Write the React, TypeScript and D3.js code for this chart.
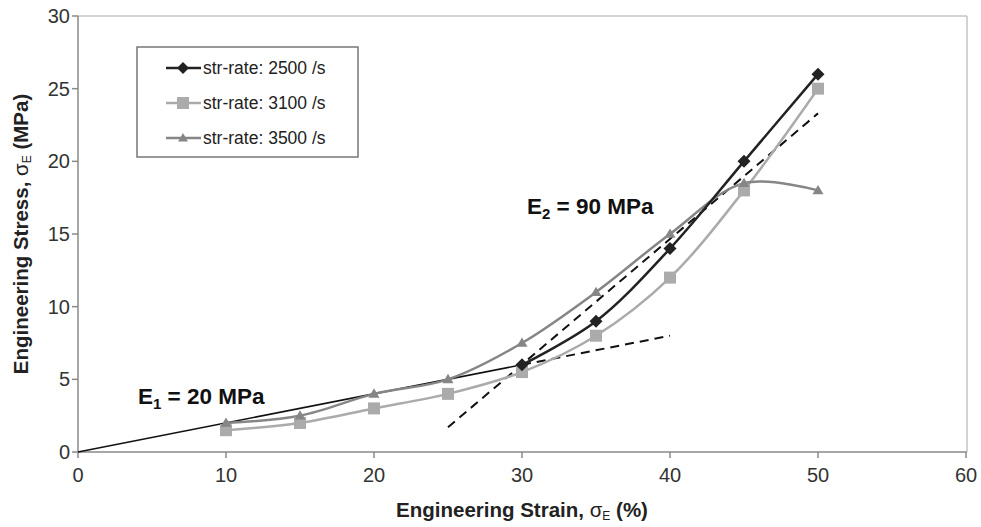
import React from "react";
import * as d3 from "d3";

const strain2500 = [30, 35, 40, 45, 50];
const stress2500 = [6, 9, 14, 20, 26];
const strain3100 = [10, 15, 20, 25, 30, 35, 40, 45, 50];
const stress3100 = [1.5, 2, 3, 4, 5.5, 8, 12, 18, 25];
const strain3500 = [10, 15, 20, 25, 30, 35, 40, 45, 50];
const stress3500 = [2, 2.5, 4, 5, 7.5, 11, 15, 18.5, 18];
const e1Solid = [[0, 0], [30, 6]];
const e1Dashed = [[30, 6], [40, 8]];
const e2Dashed = [[25, 1.7], [50, 23.3]];
const xTicks = [0, 10, 20, 30, 40, 50, 60];
const yTicks = [0, 5, 10, 15, 20, 25, 30];
const legendLabels = ["str-rate: 2500 /s", "str-rate: 3100 /s", "str-rate: 3500 /s"];

const W = 981, H = 527;
const L = 78, R = 966, T = 16, B = 452;

export default function App() {
  const x = d3.scaleLinear().domain([0, 60]).range([L, R]);
  const y = d3.scaleLinear().domain([0, 30]).range([B, T]);
  const curve = d3.line<number[]>().x(d => x(d[0])).y(d => y(d[1])).curve(d3.curveCatmullRom.alpha(0.5));
  const straight = d3.line<number[]>().x(d => x(d[0])).y(d => y(d[1]));

  const s2500 = strain2500.map((v, i) => [v, stress2500[i]]);
  const s3100 = strain3100.map((v, i) => [v, stress3100[i]]);
  const s3500 = strain3500.map((v, i) => [v, stress3500[i]]);

  const c2500 = "#222222", c3100 = "#ababab", c3500 = "#868686";
  const axisColor = "#8a8a8a";
  const font = "Liberation Sans, Arial, sans-serif";

  const diamond = (cx: number, cy: number, s: number, col: string, k: string) => (
    <path key={k} d={`M${cx},${cy - s}L${cx + s},${cy}L${cx},${cy + s}L${cx - s},${cy}Z`} fill={col} />
  );
  const square = (cx: number, cy: number, s: number, col: string, k: string) => (
    <rect key={k} x={cx - s} y={cy - s} width={2 * s} height={2 * s} fill={col} />
  );
  const tri = (cx: number, cy: number, s: number, col: string, k: string) => (
    <path key={k} d={`M${cx},${cy - s}L${cx + s},${cy + s * 0.7}L${cx - s},${cy + s * 0.7}Z`} fill={col} />
  );

  return (
    <svg width={W} height={H} style={{ position: "absolute", left: 0, top: 0, background: "#fff" }}>
      {/* plot frame */}
      <line x1={L} x2={R + 1} y1={T} y2={T} stroke="#c4c4c4" strokeWidth={1.5} />
      <line x1={R + 1} x2={R + 1} y1={T} y2={B} stroke="#c4c4c4" strokeWidth={1.5} />
      <line x1={L} x2={L} y1={T} y2={B} stroke={axisColor} strokeWidth={1.5} />
      <line x1={L} x2={R + 1} y1={B} y2={B} stroke={axisColor} strokeWidth={1.5} />
      {yTicks.map(t => (
        <g key={"y" + t}>
          <line x1={L - 6} x2={L} y1={y(t)} y2={y(t)} stroke={axisColor} strokeWidth={1.5} />
          <text x={L - 8} y={y(t)} dy="0.35em" textAnchor="end" fontFamily={font} fontSize={20} fill="#333">{t}</text>
        </g>
      ))}
      {xTicks.map(t => (
        <g key={"x" + t}>
          <line x1={x(t)} x2={x(t)} y1={B} y2={B + 6} stroke={axisColor} strokeWidth={1.5} />
          <text x={x(t)} y={B + 30} textAnchor="middle" fontFamily={font} fontSize={20} fill="#333">{t}</text>
        </g>
      ))}
      {/* axis titles */}
      <text x={(L + R) / 2} y={517} textAnchor="middle" fontFamily={font} fontSize={20.5} fontWeight="bold" fill="#222">
        Engineering Strain, <tspan fontWeight="normal">σ</tspan><tspan fontSize={12} dy={3} fontWeight="normal">E</tspan><tspan dy={-3}> (%)</tspan>
      </text>
      <text transform={`translate(28,234) rotate(-90)`} textAnchor="middle" fontFamily={font} fontSize={20.5} fontWeight="bold" fill="#222">
        Engineering Stress, <tspan fontWeight="normal">σ</tspan><tspan fontSize={12} dy={3} fontWeight="normal">E</tspan><tspan dy={-3}> (MPa)</tspan>
      </text>

      {/* reference lines */}
      <path d={straight(e1Solid) || ""} stroke="#111" strokeWidth={1.6} fill="none" />
      <path d={straight(e1Dashed) || ""} stroke="#111" strokeWidth={2} strokeDasharray="9,6" fill="none" />
      <path d={straight(e2Dashed) || ""} stroke="#111" strokeWidth={2} strokeDasharray="9,6" fill="none" />

      {/* series */}
      <path d={curve(s3100) || ""} stroke={c3100} strokeWidth={2.5} fill="none" />
      <path d={curve(s3500) || ""} stroke={c3500} strokeWidth={2.5} fill="none" />
      <path d={curve(s2500) || ""} stroke={c2500} strokeWidth={2.5} fill="none" />
      {s3100.map((d, i) => square(x(d[0]), y(d[1]), 6, c3100, "sq" + i))}
      {s3500.map((d, i) => tri(x(d[0]), y(d[1]), 5.5, c3500, "tr" + i))}
      {s2500.map((d, i) => diamond(x(d[0]), y(d[1]), 6.5, c2500, "di" + i))}

      {/* annotations */}
      <text x={138} y={404} fontFamily={font} fontSize={22.5} fontWeight="bold" fill="#111">
        E<tspan fontSize={15} dy={5}>1</tspan><tspan dy={-5}> = 20 MPa</tspan>
      </text>
      <text x={527} y={214} fontFamily={font} fontSize={22.5} fontWeight="bold" fill="#111">
        E<tspan fontSize={15} dy={5}>2</tspan><tspan dy={-5}> = 90 MPa</tspan>
      </text>

      {/* legend */}
      <rect x={137} y={47} width={221} height={110} fill="#fff" stroke="#777" strokeWidth={1.5} />
      {legendLabels.map((lab, i) => {
        const ly = 68 + i * 35;
        const col = [c2500, c3100, c3500][i];
        const mk = i === 0 ? diamond(183, ly, 6, col, "lm") : i === 1 ? square(183, ly, 6, col, "lm") : tri(183, ly, 5, col, "lm");
        return (
          <g key={lab}>
            <line x1={166} x2={201} y1={ly} y2={ly} stroke={col} strokeWidth={2.5} />
            {mk}
            <text x={203} y={ly} dy="0.35em" fontFamily={font} fontSize={17.5} fill="#222">{lab}</text>
          </g>
        );
      })}
    </svg>
  );
}
